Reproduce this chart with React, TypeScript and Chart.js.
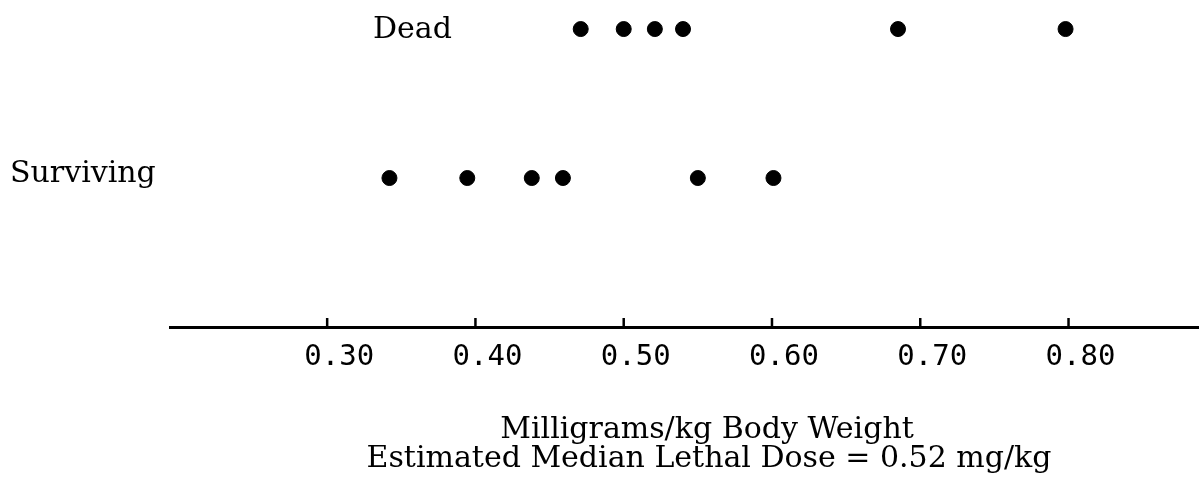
import React, { useEffect, useRef } from 'react';
import { Chart, registerables } from 'chart.js';

Chart.register(...registerables);

// Data
const deadDoses = [0.471, 0.5, 0.521, 0.54, 0.685, 0.798];
const survivingDoses = [0.342, 0.3945, 0.438, 0.459, 0.55, 0.601];
const tickValues = [0.3, 0.4, 0.5, 0.6, 0.7, 0.8];
const rowLabels = ['Dead', 'Surviving'];
const rowLevels = [1, 0];
const titleLines = ['Milligrams/kg Body Weight', 'Estimated Median Lethal Dose = 0.52 mg/kg'];

const W = 1199;
const H = 483;

const annotPlugin = {
  id: 'annot',
  afterDraw(chart: any) {
    const ctx = chart.ctx;
    const xs = chart.scales.x;
    const ys = chart.scales.y;
    const base = chart.chartArea.bottom;
    ctx.save();
    ctx.strokeStyle = '#000';
    ctx.lineWidth = 2.5;
    xs.ticks.forEach((t: any) => {
      const px = xs.getPixelForValue(t.value);
      ctx.beginPath();
      ctx.moveTo(px, base);
      ctx.lineTo(px, base - 9);
      ctx.stroke();
    });
    ctx.fillStyle = '#000';
    ctx.font = '30px "DejaVu Serif"';
    ctx.textBaseline = 'alphabetic';
    ctx.textAlign = 'left';
    ctx.fillText(rowLabels[0], 373, ys.getPixelForValue(rowLevels[0]) + 9);
    ctx.fillText(rowLabels[1], 10, ys.getPixelForValue(rowLevels[1]) + 4);
    ctx.textAlign = 'center';
    ctx.fillText(titleLines[0], 707, 438);
    ctx.fillText(titleLines[1], 709, 467);
    ctx.restore();
  },
};

export default function App() {
  const ref = useRef<HTMLCanvasElement>(null);
  useEffect(() => {
    document.body.style.margin = '0';
    const canvas = ref.current!;
    const chart = new Chart(canvas, {
      type: 'scatter',
      data: {
        datasets: [
          {
            label: rowLabels[0],
            data: deadDoses.map((v) => ({ x: v, y: rowLevels[0] })),
            backgroundColor: '#000',
            borderColor: '#000',
            pointRadius: 7.5,
          },
          {
            label: rowLabels[1],
            data: survivingDoses.map((v) => ({ x: v, y: rowLevels[1] })),
            backgroundColor: '#000',
            borderColor: '#000',
            pointRadius: 7.5,
          },
        ],
      },
      options: {
        animation: false,
        responsive: false,
        devicePixelRatio: 1,
        layout: { autoPadding: false, padding: { left: 170, top: 0, right: 0, bottom: 0 } },
        plugins: { legend: { display: false }, tooltip: { enabled: false } },
        scales: {
          x: {
            type: 'linear',
            min: 0.194,
            max: 0.888,
            afterBuildTicks: (scale: any) => {
              scale.ticks = tickValues.map((v) => ({ value: v }));
            },
            afterFit: (scale: any) => {
              scale.height = H - 327;
            },
            grid: { display: false, drawTicks: false },
            border: { display: true, color: '#000', width: 3 },
            ticks: {
              color: '#000',
              font: { family: '"DejaVu Sans Mono"', size: 29 },
              padding: 13,
              labelOffset: 12,
              maxRotation: 0,
              autoSkip: false,
              callback: (v: any) => Number(v).toFixed(2),
            },
          },
          y: {
            type: 'linear',
            display: false,
            min: -1.0,
            max: 1.195,
          },
        },
      },
      plugins: [annotPlugin],
    });
    return () => chart.destroy();
  }, []);
  return <canvas ref={ref} width={W} height={H} style={{ display: 'block' }} />;
}
